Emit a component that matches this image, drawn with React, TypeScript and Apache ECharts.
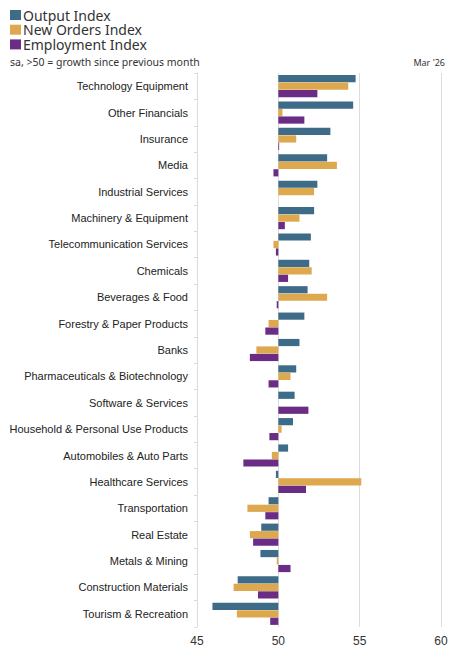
import React, { useEffect, useRef } from "react";
import * as echarts from "echarts";

const categories = [
  "Technology Equipment",
  "Other Financials",
  "Insurance",
  "Media",
  "Industrial Services",
  "Machinery & Equipment",
  "Telecommunication Services",
  "Chemicals",
  "Beverages & Food",
  "Forestry & Paper Products",
  "Banks",
  "Pharmaceuticals & Biotechnology",
  "Software & Services",
  "Household & Personal Use Products",
  "Automobiles & Auto Parts",
  "Healthcare Services",
  "Transportation",
  "Real Estate",
  "Metals & Mining",
  "Construction Materials",
  "Tourism & Recreation",
];

const outputIndex = [54.75, 54.6, 53.2, 53.0, 52.4, 52.2, 52.0, 51.9, 51.8, 51.6, 51.3, 51.1, 51.0, 50.9, 50.6, 49.85, 49.4, 48.95, 48.9, 47.5, 45.95];
const newOrdersIndex = [54.3, 50.25, 51.1, 53.6, 52.2, 51.3, 49.7, 52.05, 53.0, 49.4, 48.65, 50.75, 50.0, 50.2, 49.6, 55.1, 48.1, 48.25, 49.9, 47.25, 47.45];
const employmentIndex = [52.4, 51.6, 50.05, 49.7, 50.0, 50.4, 49.85, 50.6, 49.9, 49.2, 48.25, 49.4, 51.85, 49.45, 47.85, 51.7, 49.2, 48.45, 50.75, 48.75, 49.5];

const seriesNames = ["Output Index", "New Orders Index", "Employment Index"];
const BASE = 50;
const xTicks = [45, 50, 55, 60];

const COLORS = ["#3e6b87", "#dea84f", "#6a2c84"];

export default function App() {
  const ref = useRef<HTMLDivElement>(null);
  useEffect(() => {
    document.body.style.margin = "0";
    const chart = echarts.init(ref.current!, null, { renderer: "svg" });
    const mk = (name: string, arr: number[], color: string) => ({
      name,
      type: "bar",
      data: arr.map((v) => +(v - BASE).toFixed(3)),
      itemStyle: { color },
      barCategoryGap: "16%",
      barGap: "4%",
    });
    const legendGraphics: any[] = [];
    seriesNames.forEach((name, i) => {
      const cy = 15 + i * 14.7;
      legendGraphics.push({
        type: "rect",
        shape: { x: 10, y: cy - 5, width: 11, height: 10 },
        style: { fill: COLORS[i] },
      });
      legendGraphics.push({
        type: "text",
        x: 23,
        y: cy,
        style: {
          text: name,
          fontSize: 14,
          fontFamily: "Noto Sans",
          fill: "#333",
          verticalAlign: "middle",
          align: "left",
        },
      });
    });
    chart.setOption({
      animation: false,
      color: COLORS,
      graphic: [
        ...legendGraphics,
        {
          type: "text",
          left: 10,
          top: 56,
          style: {
            text: "sa, >50 = growth since previous month",
            fontSize: 10.5,
            fontFamily: "Noto Sans",
            fill: "#333",
          },
        },
        {
          type: "text",
          right: 7,
          top: 58,
          style: {
            text: "Mar '26",
            fontSize: 9,
            fontFamily: "Noto Sans",
            fill: "#333",
          },
        },
      ],
      grid: { left: 197, right: 11, top: 73, bottom: 22, containLabel: false },
      xAxis: {
        type: "value",
        min: xTicks[0] - BASE,
        max: xTicks[xTicks.length - 1] - BASE,
        interval: 5,
        axisLine: { show: false },
        axisTick: { show: false },
        axisLabel: {
          formatter: (v: number) => String(v + BASE),
          fontSize: 12,
          fontFamily: "Liberation Sans",
          color: "#333",
          margin: 8,
        },
        splitLine: { lineStyle: { color: "#dcdcdc", width: 1 } },
      },
      yAxis: [
        {
          type: "category",
          data: categories,
          inverse: true,
          axisLine: { show: false },
          axisTick: { show: false },
          axisLabel: {
            fontSize: 11,
            fontFamily: "Liberation Sans",
            color: "#222",
            margin: 9,
          },
        },
        {
          type: "category",
          data: categories,
          inverse: true,
          position: "left",
          axisLine: { show: true, onZero: true, lineStyle: { color: "#dcdcdc" } },
          axisTick: { show: true, length: 3, lineStyle: { color: "#dcdcdc" } },
          axisLabel: { show: false },
        },
      ],
      series: [
        mk(seriesNames[0], outputIndex, COLORS[0]),
        mk(seriesNames[1], newOrdersIndex, COLORS[1]),
        mk(seriesNames[2], employmentIndex, COLORS[2]),
      ],
    });
    return () => chart.dispose();
  }, []);
  return <div ref={ref} style={{ width: 452, height: 649 }} />;
}
